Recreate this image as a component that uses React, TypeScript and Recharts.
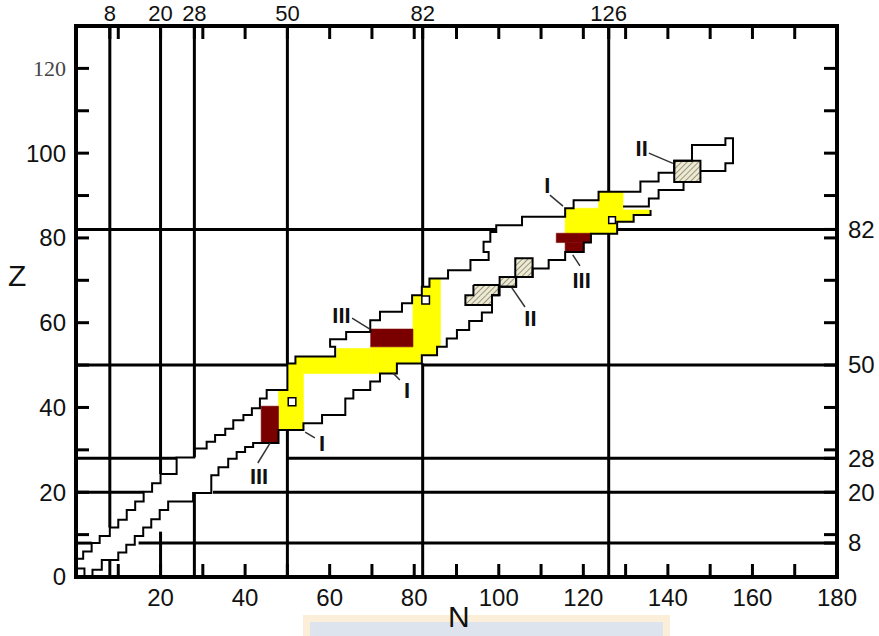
import React from "react";
import { ComposedChart, XAxis, YAxis, Line, ReferenceArea, Scatter } from "recharts";

type Pt = [number, number];
type Cell = [number, number, number, number]; // n1, n2, z1, z2

const FONT = "'Liberation Sans', Arial, sans-serif";

// axes
const bottomTicks = [0, 10, 20, 30, 40, 50, 60, 70, 80, 90, 100, 110, 120, 130, 140, 150, 160, 170, 180];
const bottomLabels = [20, 40, 60, 80, 100, 120, 140, 160, 180];
const topTicks = [8, 10, 20, 28, 30, 40, 50, 60, 70, 80, 82, 90, 100, 110, 120, 126, 130, 140, 150, 160, 170];
const leftTicks = [0, 10, 20, 30, 40, 50, 60, 70, 80, 90, 100, 110, 120];
const leftLabels = [0, 20, 40, 60, 80, 100, 120];
const rightTicks = [8, 10, 20, 28, 30, 40, 50, 60, 70, 80, 82, 90, 100, 110, 120];

// magic numbers
const magicN = [8, 20, 28, 50, 82, 126];
const magicZ = [8, 20, 28, 50, 82];

// magic lines, drawn only outside the nuclide band
const verticalMagic: Pt[][] = [
  [[8, 0], [8, 3.9]], [[8, 11.7], [8, 130]],
  [[20, 0], [20, 10.7]], [[20, 24.3], [20, 130]],
  [[28, 0], [28, 19.8]], [[28, 28.3], [28, 130]],
  [[50, 0], [50, 34.6]], [[50, 50.4], [50, 130]],
  [[82, 0], [82, 50.4]], [[82, 68.5], [82, 130]],
  [[126, 0], [126, 81]], [[126, 90.9], [126, 130]],
];
const horizontalMagic: Pt[][] = [
  [[0, 8], [3.7, 8]], [[14.8, 8], [180, 8]],
  [[0, 20], [15.9, 20]], [[32.4, 20], [180, 20]],
  [[0, 28], [23.8, 28]], [[50, 28], [180, 28]],
  [[0, 50], [50, 50]], [[81.8, 50], [180, 50]],
  [[0, 82], [99.4, 82]], [[128, 82], [180, 82]],
];

// outline of known nuclides (N, Z)
const upperEdge: Pt[] = [
  [0, 4.3], [1.7, 4.3], [1.7, 6], [3.7, 6], [3.7, 8], [5.6, 8], [5.6, 9.7], [8, 9.7], [8, 11.7],
  [10, 11.7], [10, 13.5], [12, 13.5], [12, 15.8], [14, 15.8], [14, 17.8], [16, 17.8], [16, 20.1],
  [18, 20.1], [18, 22.1], [20, 22.1], [20, 24.3], [23.8, 24.3], [23.8, 28.2], [28, 28.2], [28, 30.3],
  [30.9, 30.3], [30.9, 31.9], [32.9, 31.9], [32.9, 33.5], [35.3, 33.5], [35.3, 35], [37.2, 35],
  [37.2, 37], [39.6, 37], [39.6, 38.2], [41.6, 38.2], [41.6, 39.8], [43.5, 39.8], [43.5, 42.1],
  [45.1, 42.1], [45.1, 44.1], [50, 44.1], [50, 50.4], [51.9, 50.4], [51.9, 52], [61.3, 52],
  [61.3, 54.3], [60.1, 54.3], [60.1, 56.1], [63.9, 56.1], [63.9, 57.8], [69.6, 57.8], [69.6, 60.6],
  [71.9, 60.6], [71.9, 62.6], [77.1, 62.6], [77.1, 64.6], [79.5, 64.6], [79.5, 66.5], [81.8, 66.5],
  [81.8, 68.5], [83.6, 68.5], [83.6, 70.4], [88, 70.4], [88, 72.4], [93.3, 72.4], [93.3, 74.8],
  [97.6, 74.8], [97.6, 76.7], [96.4, 76.7], [96.4, 79.1], [98, 79.1], [98, 81.4], [99.4, 81.4],
  [99.4, 83], [105.5, 83], [105.5, 85], [115.7, 85], [115.7, 87], [117.7, 87], [117.7, 88.9],
  [123.6, 88.9], [123.6, 90.9], [133.5, 90.9], [133.5, 93.3], [137.8, 93.3], [137.8, 95.4],
  [141.5, 95.4], [141.5, 98.2], [145.7, 98.2], [145.7, 101.9], [153.6, 101.9], [153.6, 103.5],
  [155.4, 103.5], [155.4, 97.6], [153.6, 97.6], [153.6, 95.8], [147.7, 95.8],
];
const lowerEdge: Pt[] = [
  [3.9, 0], [3.9, 1.7], [6.1, 1.7], [6.1, 4], [10, 4], [10, 5.8], [11.9, 5.8], [11.9, 7.6],
  [13.9, 7.6], [13.9, 9.7], [15.9, 9.7], [15.9, 11.7], [17.8, 11.7], [17.8, 13.6], [19.8, 13.6],
  [19.8, 15.8], [21.8, 15.8], [21.8, 17.8], [27.7, 17.8], [27.7, 19.8], [32, 19.8], [32, 24],
  [33.7, 24], [33.7, 25.9], [36, 25.9], [36, 27.9], [38, 27.9], [38, 29.5], [40, 29.5], [40, 30.7],
  [41.9, 30.7], [41.9, 31.6], [47.9, 31.6], [47.9, 34.7], [53.8, 34.7], [53.8, 36.3], [58.2, 36.3],
  [58.2, 38.2], [63.7, 38.2], [63.7, 42.1], [65.6, 42.1], [65.6, 44.1], [69.6, 44.1], [69.6, 46.1],
  [71.9, 46.1], [71.9, 48], [75.9, 48], [75.9, 50.4], [81.8, 50.4], [81.8, 52.3], [85.4, 52.3],
  [85.4, 54.3], [87.7, 54.3], [87.7, 56.3], [90.1, 56.3], [90.1, 58.3], [93, 58.3], [93, 60.4],
  [96, 60.4], [96, 62.4], [98.4, 62.4], [98.4, 66.5], [100.2, 66.5], [100.2, 68.5], [104.1, 68.5],
  [104.1, 70.8], [108, 70.8], [108, 72.8], [111.8, 72.8], [111.8, 74.8], [115.7, 74.8], [115.7, 76.7],
  [120.1, 76.7], [120.1, 78.9], [121.8, 78.9], [121.8, 81], [128, 81], [128, 83.8], [131.9, 83.8],
  [131.9, 85.4], [135.9, 85.4], [135.9, 86.6],
];
const lowerTail: Pt[] = [
  [129.4, 87.4], [135.5, 87.4], [135.5, 89.3], [137.8, 89.3], [137.8, 91.3], [143.7, 91.3], [143.7, 93.2],
];
const originStub: Pt[] = [[0, 2], [2, 2], [2, 0]];

// regions
const yellowCells: Cell[] = [
  [47.9, 50, 34.7, 44.1], [50, 51.9, 34.7, 50.4], [51.9, 53.8, 34.7, 52], [53.8, 61.7, 48, 52],
  [61.7, 69.6, 48, 53.9], [69.6, 75.9, 48, 54.3], [75.9, 79.7, 50.4, 54.3], [79.7, 81.8, 50.4, 66.5],
  [81.8, 83.6, 52.3, 68.5], [83.6, 85.4, 52.3, 70.4], [85.4, 86.2, 54.3, 70.4],
  [115.7, 123.6, 81, 87], [123.6, 128, 81, 90.9], [128, 129.4, 83.8, 90.9],
  [129.4, 131.9, 83.8, 86.6], [131.9, 135.9, 85.4, 86.6],
];
const redCells: Cell[] = [
  [43.8, 47.9, 31.6, 40.3], [69.7, 79.7, 54.3, 58.5], [113.6, 121.8, 78.9, 81.1], [115.7, 120.1, 76.7, 78.9],
];
const holeCells: Cell[] = [[50.2, 52, 40.4, 42.3], [81.8, 83.6, 64.4, 66.3], [126, 127.6, 83.4, 85]];
const hatchBoxes: Cell[] = [[103.9, 108, 70.8, 75.2], [100.2, 104.1, 68.5, 70.8], [141.5, 147.7, 93.2, 98.2]];
const hatchOpen: Cell[] = [[94, 100, 66.5, 68.9], [92.1, 98.4, 64.2, 66.5]];
const hatchOutline: Pt[] = [
  [94, 68.9], [100, 68.9], [100, 66.5], [98.4, 66.5], [98.4, 64.2], [92.1, 64.2], [92.1, 66.5], [94, 66.5], [94, 68.9],
];

// annotations
const notes = [
  { text: "III", n: 43.3, z: 23.7 },
  { text: "I", n: 58.2, z: 31.5 },
  { text: "I", n: 78.3, z: 44.1 },
  { text: "III", n: 62.8, z: 61.9 },
  { text: "II", n: 107.5, z: 61 },
  { text: "I", n: 111.5, z: 92.4 },
  { text: "III", n: 119.6, z: 70.1 },
  { text: "II", n: 133.8, z: 101.3 },
];
const leaders: Pt[][] = [
  [[43, 26.9], [45.9, 31.6]],
  [[56.5, 32.8], [54.2, 34.2]],
  [[76.6, 46.5], [75, 48.1]],
  [[65.3, 61.1], [69.5, 58.5]],
  [[106.2, 63.7], [103.1, 68.2]],
  [[112.1, 90.1], [115.2, 87.5]],
  [[117.5, 76], [119.2, 73.4]],
  [[135.5, 100], [141.2, 97.6]],
];

const rows = (pts: Pt[]) => pts.map(([n, z]) => ({ n, z }));

const axisLine = { stroke: "#000", strokeWidth: 4, strokeLinecap: "square" as const };
const tickLine = { stroke: "#000", strokeWidth: 3 };

const BottomTick = (p: any) =>
  bottomLabels.includes(p.payload.value) ? (
    <text x={p.x} y={p.y} dy="0.71em" textAnchor="middle" fontSize={24} fontFamily={FONT} fill="#111">
      {p.payload.value}
    </text>
  ) : (
    <g />
  );

const TopTick = (p: any) =>
  magicN.includes(p.payload.value) ? (
    <text x={p.x} y={p.y} textAnchor="middle" fontSize={22} fontFamily={FONT} fill="#111">
      {p.payload.value}
    </text>
  ) : (
    <g />
  );

const LeftTick = (p: any) => {
  const v = p.payload.value;
  if (!leftLabels.includes(v)) return <g />;
  if (v === 120)
    return (
      <text x={p.x} y={p.y} dy="0.35em" textAnchor="end" fontSize={22} fontFamily="'Liberation Serif', serif" fill="#444">
        {v}
      </text>
    );
  return (
    <text x={p.x} y={p.y} dy="0.35em" textAnchor="end" fontSize={24} fontFamily={FONT} fill="#111">
      {v}
    </text>
  );
};

const RightTick = (p: any) =>
  magicZ.includes(p.payload.value) ? (
    <text x={p.x} y={p.y} dy="0.35em" textAnchor="start" fontSize={24} fontFamily={FONT} fill="#111">
      {p.payload.value}
    </text>
  ) : (
    <g />
  );

const NoteText = (p: any) => (
  <text
    x={p.cx}
    y={p.cy}
    dy="0.36em"
    textAnchor="middle"
    fontSize={22}
    fontWeight="bold"
    fontFamily={FONT}
    fill="#111"
  >
    {p.payload.text}
  </text>
);

const cellArea = (c: Cell, key: string, fill: string, extra: any = {}) => (
  <ReferenceArea
    key={key}
    x1={c[0]}
    x2={c[1]}
    y1={c[2]}
    y2={c[3]}
    fill={fill}
    fillOpacity={1}
    stroke={fill}
    strokeWidth={0.6}
    {...extra}
  />
);

const edgeLine = (pts: Pt[], key: string, width: number, color = "#000", extra: any = {}) => (
  <Line
    key={key}
    data={rows(pts)}
    dataKey="z"
    type="linear"
    stroke={color}
    strokeWidth={width}
    dot={false}
    activeDot={false}
    isAnimationActive={false}
    {...extra}
  />
);

export default function App() {
  return (
    <div style={{ position: "absolute", left: 0, top: 0, width: 879, height: 636, background: "#fff" }}>
      <div
        style={{
          position: "absolute",
          left: 303,
          top: 615,
          width: 353,
          height: 14,
          background: "#dde4ee",
          border: "7px solid #fcefd9",
          borderBottom: "none",
        }}
      />
      <div style={{ position: "absolute", left: 0, top: 0 }}>
        <ComposedChart width={879} height={636} margin={{ top: 0, right: 0, bottom: 0, left: 0 }}>
          <defs>
            <pattern id="hatch" width={4} height={4} patternUnits="userSpaceOnUse" patternTransform="rotate(45)">
              <rect width={4} height={4} fill="#eeead0" />
              <line x1={0} y1={0} x2={0} y2={4} stroke="#4a4a4a" strokeWidth={1.1} />
            </pattern>
          </defs>
          <XAxis
            dataKey="n"
            type="number"
            domain={[0, 180]}
            allowDataOverflow
            ticks={bottomTicks}
            interval={0}
            height={59}
            tickSize={-13}
            tickMargin={25}
            tick={BottomTick}
            axisLine={axisLine}
            tickLine={tickLine}
          />
          <XAxis
            xAxisId="top"
            orientation="top"
            dataKey="n"
            type="number"
            domain={[0, 180]}
            allowDataOverflow
            ticks={topTicks}
            interval={0}
            height={26}
            tickSize={-13}
            tickMargin={18}
            tick={TopTick}
            axisLine={axisLine}
            tickLine={tickLine}
          />
          <YAxis
            type="number"
            domain={[0, 130]}
            allowDataOverflow
            ticks={leftTicks}
            interval={0}
            width={76}
            tickSize={-13}
            tickMargin={23}
            tick={LeftTick}
            axisLine={axisLine}
            tickLine={tickLine}
          />
          <YAxis
            yAxisId="right"
            orientation="right"
            type="number"
            domain={[0, 130]}
            allowDataOverflow
            ticks={rightTicks}
            interval={0}
            width={42}
            tickSize={-13}
            tickMargin={24}
            tick={RightTick}
            axisLine={axisLine}
            tickLine={tickLine}
          />

          {yellowCells.map((c, i) => cellArea(c, `y${i}`, "#ffff00"))}
          {redCells.map((c, i) => cellArea(c, `r${i}`, "#7a0000"))}
          {hatchOpen.map((c, i) => cellArea(c, `ho${i}`, "url(#hatch)", { stroke: "none" }))}
          {hatchBoxes.map((c, i) => cellArea(c, `hb${i}`, "url(#hatch)", { stroke: "#000", strokeWidth: 2 }))}
          {holeCells.map((c, i) => cellArea(c, `w${i}`, "#fff", { stroke: "#000", strokeWidth: 1.5 }))}

          {verticalMagic.map((s, i) => edgeLine(s, `mv${i}`, 3))}
          {horizontalMagic.map((s, i) => edgeLine(s, `mh${i}`, 3, "#000", { xAxisId: "top", yAxisId: "right" }))}

          {edgeLine(upperEdge, "upper", 2)}
          {edgeLine(lowerEdge, "lower", 2)}
          {edgeLine(lowerTail, "tail", 2)}
          {edgeLine(originStub, "stub", 2)}
          {edgeLine(hatchOutline, "hatchOutline", 2)}
          {leaders.map((s, i) => edgeLine(s, `ld${i}`, 1.5, "#333"))}

          <Scatter data={notes} dataKey="z" shape={NoteText} isAnimationActive={false} />
        </ComposedChart>
      </div>
      <div
        style={{
          position: "absolute",
          left: 8,
          top: 258,
          fontFamily: FONT,
          fontSize: 30,
          lineHeight: "36px",
          color: "#111",
        }}
      >
        Z
      </div>
      <div
        style={{
          position: "absolute",
          left: 448,
          top: 599,
          fontFamily: FONT,
          fontSize: 30,
          lineHeight: "36px",
          color: "#111",
        }}
      >
        N
      </div>
    </div>
  );
}
